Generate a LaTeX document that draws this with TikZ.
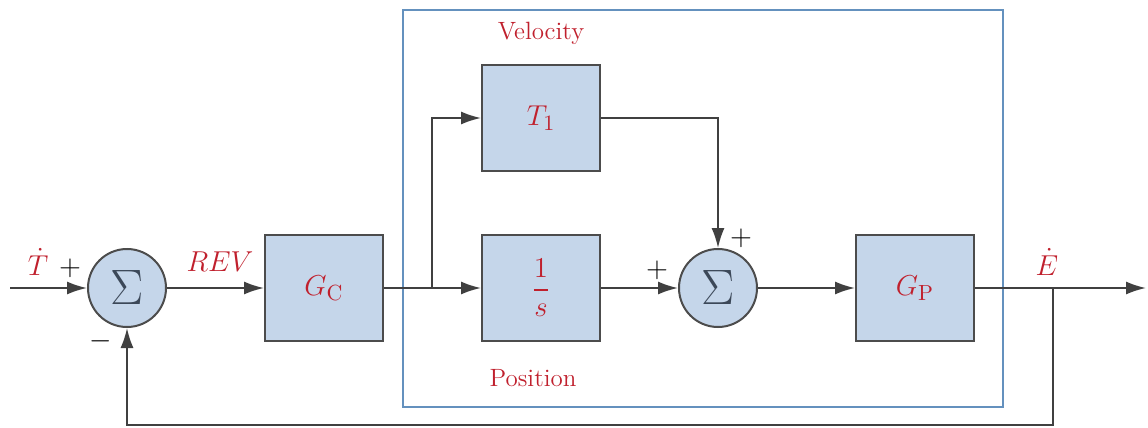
\documentclass[tikz,border=0pt]{standalone}
\usepackage{amsmath}
\usetikzlibrary{arrows.meta}
\definecolor{blockblue}{RGB}{197,214,234}
\definecolor{frameblue}{RGB}{100,145,190}
\definecolor{labred}{RGB}{192,32,45}
\definecolor{sigmagrey}{RGB}{60,72,88}
\tikzset{
	block/.style={draw=black!70, fill=blockblue, line width=1pt, minimum width=59pt, minimum height=53pt, inner sep=0pt, text=labred, font=\fontsize{15}{18}\selectfont},
	sumnode/.style={circle, draw=black!70, fill=blockblue, line width=1pt, minimum size=39pt, inner sep=0pt, text=sigmagrey, font=\fontsize{23}{25}\selectfont},
	sig/.style={draw=black!75, line width=0.9pt, -{Latex[length=10pt,width=6.5pt]}},
	wire/.style={draw=black!75, line width=0.9pt},
	sign/.style={inner sep=1pt, font=\fontsize{14}{14}\selectfont},
	redlab/.style={inner sep=1pt, text=labred, font=\fontsize{15}{18}\selectfont},
	wordlab/.style={text=labred, font=\fontsize{12.5}{15}\selectfont},
}
\begin{document}
\begin{tikzpicture}[x=0.5pt,y=-0.5pt]
	\useasboundingbox (0,0) rectangle (1148,428);
	\draw[frameblue, line width=1.2pt] (403,10) rectangle (1003,407);
	\node[sumnode] (s1) at (127,288) {$\Sigma$};
	\node[block] (gc) at (324,288) {$G_{\mathrm{C}}$};
	\node[block] (t1) at (541,118) {$T_1$};
	\node[block] (inv) at (541,288) {$\dfrac{1}{s}$};
	\node[sumnode] (s2) at (718,288) {$\Sigma$};
	\node[block] (gp) at (915,288) {$G_{\mathrm{P}}$};
	\coordinate (in) at (10,288);
	\coordinate (split) at (432,288);
	\coordinate (tap) at (1053,288);
	\coordinate (out) at (1146,288);
	\coordinate (fb) at (127,425);
	\draw[sig] (in) -- (s1);
	\draw[sig] (s1) -- (gc);
	\draw[wire] (gc) -- (split);
	\draw[sig] (split) |- (t1);
	\draw[sig] (split) -- (inv);
	\draw[sig] (inv) -- (s2);
	\draw[sig] (t1) -| (s2);
	\draw[sig] (s2) -- (gp);
	\draw[sig] (gp) -- (out);
	\draw[sig] (tap) |- (fb) -- (s1);
	\node[redlab] (tdot) at (38,262) {$\dot{T}$};
	\node[sign] (p1) at (70,268) {$+$};
	\node[sign] (m1) at (101,341) {$-$};
	\node[redlab] (rev) at (220,262) {$REV$};
	\node[redlab] (edot) at (1047,262) {$\dot{E}$};
	\node[sign] (p2) at (741,238) {$+$};
	\node[sign] (p3) at (657,270) {$+$};
	\node[wordlab] (vel) at (541,33) {Velocity};
	\node[wordlab] (pos) at (533,378) {Position};
\end{tikzpicture}
\end{document}
